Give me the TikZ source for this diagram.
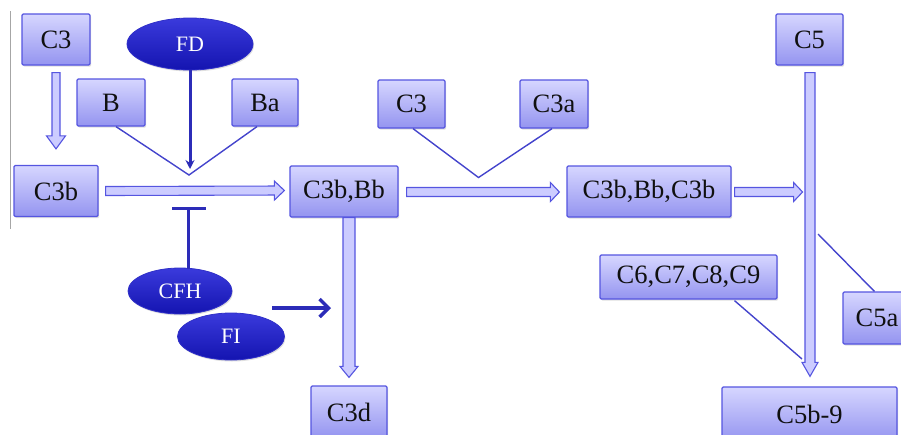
\documentclass[tikz,border=0pt]{standalone}
\usepackage{fontspec}
\setmainfont{Liberation Serif}
\usetikzlibrary{calc,shadows,shapes.geometric,arrows.meta}

\definecolor{boxtop}{HTML}{D6D6FF}
\definecolor{boxbot}{HTML}{9494F0}
\definecolor{boxline}{HTML}{5555E0}
\definecolor{navy}{HTML}{1414B0}
\definecolor{navytop}{HTML}{3A3ADC}
\definecolor{navyline}{HTML}{3030C8}
\definecolor{linkblue}{HTML}{4444CC}
\definecolor{barblue}{HTML}{2C2CB8}
\definecolor{shaftfill}{HTML}{CCCCFF}
\definecolor{textgray}{HTML}{101010}

\tikzset{
  box/.style={rectangle, draw=boxline, line width=1.2pt, rounded corners=1.2pt,
    top color=boxtop, bottom color=boxbot, inner sep=0pt, text=textgray,
    font=\fontsize{26.5}{30}\selectfont,
    drop shadow={opacity=0.25, shadow xshift=1.2pt, shadow yshift=-1.6pt}},
  enzyme/.style={ellipse, draw=navyline, line width=0.8pt, inner sep=0pt,
    top color=navytop, bottom color=navy, text=white,
    font=\fontsize{22}{26}\selectfont,
    drop shadow={opacity=0.25, shadow xshift=1pt, shadow yshift=-1.5pt}},
  link/.style={draw=linkblue, line width=1.4pt},
  drive/.style={draw=barblue, line width=3pt},
  hollow/.style={draw=boxline, line width=1.1pt, fill=shaftfill, line join=miter},
}

% wide outlined arrow: start, end, shaft half-width, head half-width, head length
\newcommand{\hollowarrow}[5]{%
  \coordinate (ha-s) at #1;
  \coordinate (ha-e) at #2;
  \coordinate (ha-h) at ($(ha-e)!#5!(ha-s)$);
  \draw[hollow] ($(ha-s)!#3!90:(ha-e)$) -- ($(ha-h)!#3!90:(ha-e)$)
    -- ($(ha-h)!#4!90:(ha-e)$) -- (ha-e) -- ($(ha-h)!#4!-90:(ha-e)$)
    -- ($(ha-h)!#3!-90:(ha-e)$) -- ($(ha-s)!#3!-90:(ha-e)$) -- cycle;
}

\begin{document}
\begin{tikzpicture}[x=1pt, y=-1pt]
\useasboundingbox (0,0) rectangle (901,434);
\clip (0,0) rectangle (901,434);

% margin rule on the left
\draw[gray!70, line width=0.9pt] (10,11) -- (10,229);

% boxes
\node[box, minimum width=68pt, minimum height=51pt] (c3top) at (56,39.5) {C3};
\node[box, minimum width=68pt, minimum height=47pt] (b) at (111,102.5) {B};
\node[box, minimum width=66pt, minimum height=47pt] (ba) at (265,102.5) {Ba};
\node[box, minimum width=84pt, minimum height=51pt] (c3b) at (56,191) {C3b};
\node[box, minimum width=108pt, minimum height=51pt] (c3bbb) at (344,191.5) {C3b,Bb};
\node[box, minimum width=67pt, minimum height=48pt] (c3mid) at (411.5,104) {C3};
\node[box, minimum width=68pt, minimum height=48pt] (c3a) at (554,104) {C3a};
\node[box, minimum width=164pt, minimum height=51pt] (conv) at (649,191.5) {C3b,Bb,C3b};
\node[box, minimum width=67pt, minimum height=51pt] (c5) at (809.5,39.5) {C5};
\node[box, minimum width=68pt, minimum height=52pt] (c5a) at (877,318) {C5a};
\node[box, minimum width=177pt, minimum height=44pt] (late) at (688.5,277) {C6,C7,C8,C9};
\node[box, minimum width=76pt, minimum height=52pt] (c3d) at (349,412) {C3d};
\node[box, minimum width=175pt, minimum height=54pt] (mac) at (809.5,414) {C5b-9};

% regulators
\node[enzyme, minimum width=126pt, minimum height=52pt] (fd) at (190,44) {FD};
\node[enzyme, minimum width=104pt, minimum height=46pt] (cfh) at (180,291) {CFH};
\node[enzyme, minimum width=107pt, minimum height=47pt] (fi) at (231,336.5) {FI};

% junction points
\coordinate (vb) at (189,175);
\coordinate (vc3) at (478.5,177.5);
\coordinate (inh) at (188,208.5);
\coordinate (fitip) at (331,308);
\coordinate (macin) at (802,359);
\coordinate (c5aout) at (818,234);

% joining lines
\draw[link] ($(b.south)+(5,0)$) -- (vb) -- ($(ba.south)+(-8,0)$);
\draw[link] ($(c3mid.south)+(1.5,0)$) -- (vc3) -- ($(c3a.south)+(-2,0)$);
\draw[link] ($(late.south)+(46,1)$) -- (macin);
\draw[link] ($(c5a.north west)+(32,0)$) -- (c5aout);

% factor D drives the convertase
\draw[drive, -{Stealth[length=9pt, width=9pt]}] (fd.south) -- ($(vb)+(1,-6)$);

% factor H inhibits it
\draw[drive] ($(cfh.north)+(8,1)$) -- (inh);
\draw[drive] ($(inh)+(-16,0)$) -- ($(inh)+(18,0)$);

% factor I acts on C3b,Bb
\draw[drive, line width=3.4pt, -{Straight Barb[length=9pt, width=18pt]}]
  ($(fi.center)+(41,-28.5)$) -- (fitip);

% outlined flow arrows
\hollowarrow{($(c3top.south)+(0,7)$)}{($(c3b.north)+(0,-16)$)}{4pt}{9.5pt}{13pt}
\hollowarrow{($(c3b.east)+(7,0)$)}{($(c3bbb.west)+(-5,-1)$)}{4.5pt}{9.5pt}{10pt}
\hollowarrow{($(c3bbb.south)+(5,0)$)}{($(c3d.north)+(0,-8)$)}{6pt}{9pt}{11pt}
\hollowarrow{($(c3bbb.east)+(8,0.5)$)}{($(conv.west)+(-7,0.5)$)}{4.5pt}{9.5pt}{9pt}
\hollowarrow{($(conv.east)+(3,0.5)$)}{($(conv.east)+(71,0.5)$)}{4.5pt}{9.5pt}{9pt}
\hollowarrow{($(c5.south)+(0.5,7)$)}{($(mac.north)+(0.5,-10)$)}{5pt}{8pt}{14pt}

\end{tikzpicture}
\end{document}
